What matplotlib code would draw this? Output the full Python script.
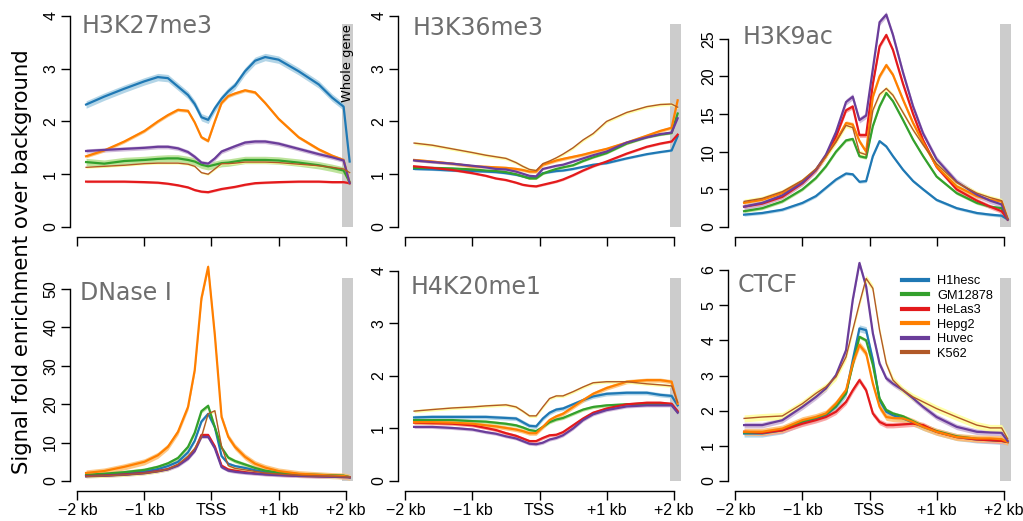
import numpy as np
import matplotlib
matplotlib.use("Agg")
import matplotlib.pyplot as plt

# bin centres in kb around the TSS; last entry is the whole-gene average
pos_kb = [-1.87, -1.6, -1.3, -1.0, -0.8, -0.65, -0.5, -0.35, -0.25, -0.15, -0.05,
          0.05, 0.15, 0.25, 0.35, 0.5, 0.65, 0.8, 1.0, 1.3, 1.6, 1.8, 1.97, 2.06]

cell_lines = ["H1hesc", "GM12878", "HeLas3", "Hepg2", "Huvec", "K562"]
line_colors = ["#1f78b4", "#33a02c", "#e31a1c", "#ff7f00", "#6a3d9a", "#b15928"]
band_colors = ["#a6cee3", "#b2df8a", "#fb9a99", "#fdbf6f", "#cab2d6", "#ffff99"]

marks = ["H3K27me3", "H3K36me3", "H3K9ac", "DNase I", "H4K20me1", "CTCF"]

# fold enrichment, one list per cell line (same order as cell_lines)
h3k27me3 = [
    [2.32, 2.47, 2.62, 2.76, 2.84, 2.82, 2.66, 2.5, 2.33, 2.08, 2.03, 2.25, 2.43, 2.57, 2.68, 2.95, 3.15, 3.22, 3.17, 2.95, 2.7, 2.45, 2.28, 1.24],
    [1.23, 1.2, 1.25, 1.27, 1.29, 1.3, 1.3, 1.27, 1.24, 1.18, 1.15, 1.18, 1.21, 1.22, 1.24, 1.27, 1.27, 1.27, 1.26, 1.22, 1.17, 1.12, 1.07, 0.85],
    [0.86, 0.86, 0.86, 0.85, 0.84, 0.82, 0.79, 0.75, 0.7, 0.67, 0.66, 0.69, 0.72, 0.74, 0.76, 0.8, 0.83, 0.84, 0.85, 0.86, 0.86, 0.85, 0.85, 0.83],
    [1.34, 1.45, 1.62, 1.82, 2.0, 2.12, 2.22, 2.2, 1.98, 1.7, 1.63, 2.0, 2.35, 2.48, 2.53, 2.59, 2.55, 2.35, 2.05, 1.7, 1.47, 1.35, 1.27, 0.83],
    [1.44, 1.46, 1.48, 1.5, 1.52, 1.52, 1.49, 1.42, 1.33, 1.22, 1.2, 1.3, 1.43, 1.48, 1.53, 1.6, 1.62, 1.62, 1.58, 1.48, 1.38, 1.32, 1.26, 0.83],
    [1.13, 1.15, 1.17, 1.2, 1.21, 1.21, 1.21, 1.19, 1.15, 1.03, 1.0, 1.1, 1.2, 1.2, 1.21, 1.23, 1.23, 1.23, 1.22, 1.19, 1.16, 1.13, 1.1, 1.03],
]
h3k36me3 = [
    [1.1, 1.09, 1.07, 1.06, 1.05, 1.04, 1.02, 0.99, 0.96, 0.93, 0.94, 1.02, 1.04, 1.06, 1.07, 1.1, 1.14, 1.18, 1.21, 1.3, 1.38, 1.42, 1.45, 1.72],
    [1.12, 1.12, 1.11, 1.09, 1.07, 1.06, 1.04, 1.0, 0.96, 0.92, 0.92, 1.01, 1.06, 1.1, 1.13, 1.17, 1.25, 1.32, 1.4, 1.58, 1.7, 1.75, 1.78, 2.15],
    [1.15, 1.12, 1.08, 1.02, 0.97, 0.92, 0.89, 0.84, 0.8, 0.78, 0.77, 0.8, 0.83, 0.86, 0.9, 0.98, 1.07, 1.15, 1.24, 1.39, 1.52, 1.58, 1.62, 1.75],
    [1.27, 1.24, 1.2, 1.15, 1.14, 1.13, 1.12, 1.1, 1.08, 1.05, 1.05, 1.18, 1.22, 1.26, 1.29, 1.33, 1.37, 1.42, 1.48, 1.6, 1.73, 1.82, 1.88, 2.4],
    [1.26, 1.23, 1.2, 1.16, 1.13, 1.1, 1.09, 1.05, 1.01, 0.97, 0.96, 1.1, 1.13, 1.16, 1.18, 1.24, 1.3, 1.36, 1.43, 1.6, 1.7, 1.76, 1.79, 2.06],
    [1.59, 1.55, 1.48, 1.41, 1.36, 1.33, 1.3, 1.22, 1.15, 1.09, 1.07, 1.2, 1.25, 1.31, 1.38, 1.5, 1.65, 1.77, 2.0, 2.17, 2.28, 2.32, 2.33, 2.27],
]
h3k9ac = [
    [1.64, 1.86, 2.3, 3.2, 4.1, 5.2, 6.3, 7.1, 7.0, 6.0, 6.1, 9.4, 11.4, 10.7, 9.4, 7.6, 6.1, 5.0, 3.6, 2.5, 1.86, 1.64, 1.5, 1.0],
    [2.1, 2.5, 3.4, 5.0, 6.5, 8.05, 10.0, 11.5, 11.7, 9.4, 9.2, 13.4, 16.0, 17.8, 16.7, 14.2, 11.6, 9.4, 6.7, 4.5, 3.2, 2.7, 2.5, 1.0],
    [2.7, 3.1, 4.0, 5.8, 7.5, 9.4, 12.0, 15.5, 16.0, 12.2, 12.2, 19.0, 24.0, 25.5, 23.5, 19.0, 15.0, 11.5, 8.0, 5.0, 3.5, 2.7, 2.1, 1.0],
    [3.2, 3.6, 4.5, 6.1, 7.6, 9.4, 11.4, 13.8, 13.6, 11.4, 10.0, 17.3, 20.0, 21.5, 20.2, 16.9, 13.8, 11.2, 8.05, 5.4, 4.1, 3.6, 3.4, 1.1],
    [2.7, 3.2, 4.2, 5.9, 7.6, 9.6, 12.6, 16.6, 17.3, 14.2, 14.8, 21.0, 27.2, 28.2, 25.5, 20.5, 16.0, 12.4, 9.0, 6.0, 4.3, 3.5, 3.0, 1.0],
    [3.4, 3.8, 4.7, 6.2, 7.7, 9.4, 11.3, 13.5, 13.2, 9.9, 9.6, 15.5, 17.6, 18.4, 17.5, 15.2, 12.9, 10.9, 8.4, 5.9, 4.5, 3.9, 3.5, 1.1],
]
dnase = [
    [1.4, 1.6, 2.0, 2.5, 3.1, 3.9, 5.0, 7.5, 10.5, 15.5, 17.5, 14.0, 6.5, 4.5, 3.9, 3.4, 2.8, 2.3, 1.9, 1.6, 1.4, 1.35, 1.3, 1.0],
    [1.6, 1.9, 2.3, 2.9, 3.7, 4.6, 6.0, 8.9, 12.6, 18.2, 19.6, 14.0, 8.7, 6.1, 5.2, 4.3, 3.4, 2.7, 2.2, 1.8, 1.6, 1.5, 1.4, 1.0],
    [1.3, 1.4, 1.7, 2.1, 2.6, 3.1, 4.2, 6.0, 8.0, 12.0, 12.0, 9.0, 4.0, 3.0, 2.7, 2.3, 2.0, 1.8, 1.6, 1.3, 1.2, 1.1, 1.0, 1.0],
    [2.1, 2.6, 3.7, 5.0, 6.7, 8.9, 12.8, 19.3, 28.9, 47.6, 55.8, 38.0, 16.7, 11.5, 8.9, 6.3, 4.5, 3.5, 2.6, 1.9, 1.6, 1.4, 1.3, 1.0],
    [1.2, 1.35, 1.6, 2.0, 2.5, 3.0, 4.0, 5.8, 7.8, 11.5, 11.5, 8.5, 3.6, 2.7, 2.4, 2.1, 1.9, 1.7, 1.5, 1.3, 1.15, 1.1, 1.0, 0.9],
    [1.2, 1.35, 1.6, 2.0, 2.5, 3.1, 4.3, 6.5, 8.5, 11.5, 17.5, 18.3, 9.0, 4.0, 3.3, 2.9, 2.5, 2.1, 1.8, 1.5, 1.3, 1.2, 1.1, 1.0],
]
h4k20me1 = [
    [1.21, 1.22, 1.22, 1.22, 1.22, 1.21, 1.2, 1.19, 1.12, 1.05, 1.04, 1.19, 1.3, 1.36, 1.38, 1.46, 1.54, 1.61, 1.66, 1.68, 1.68, 1.64, 1.62, 1.44],
    [1.16, 1.16, 1.16, 1.14, 1.13, 1.11, 1.09, 1.06, 1.02, 0.97, 0.95, 1.03, 1.12, 1.17, 1.2, 1.28, 1.36, 1.41, 1.44, 1.46, 1.47, 1.47, 1.46, 1.31],
    [1.11, 1.1, 1.09, 1.06, 1.01, 0.97, 0.91, 0.86, 0.81, 0.76, 0.76, 0.82, 0.87, 0.88, 0.93, 1.06, 1.19, 1.3, 1.38, 1.46, 1.49, 1.49, 1.47, 1.33],
    [1.12, 1.12, 1.11, 1.09, 1.06, 1.04, 1.01, 0.98, 0.95, 0.91, 0.91, 1.03, 1.16, 1.23, 1.28, 1.41, 1.54, 1.66, 1.77, 1.89, 1.92, 1.92, 1.89, 1.47],
    [1.03, 1.03, 1.01, 0.98, 0.93, 0.9, 0.85, 0.81, 0.76, 0.71, 0.7, 0.73, 0.79, 0.82, 0.87, 1.0, 1.16, 1.27, 1.35, 1.42, 1.44, 1.44, 1.44, 1.3],
    [1.33, 1.36, 1.39, 1.41, 1.43, 1.44, 1.45, 1.41, 1.33, 1.24, 1.24, 1.41, 1.57, 1.62, 1.62, 1.7, 1.79, 1.87, 1.89, 1.89, 1.85, 1.83, 1.81, 1.5],
]
ctcf = [
    [1.35, 1.35, 1.44, 1.68, 1.78, 1.87, 2.11, 2.49, 3.44, 4.34, 4.29, 3.44, 2.3, 1.97, 1.87, 1.78, 1.66, 1.54, 1.4, 1.25, 1.18, 1.16, 1.14, 1.11],
    [1.38, 1.38, 1.46, 1.7, 1.8, 1.9, 2.13, 2.5, 3.3, 4.1, 4.0, 3.3, 2.35, 2.02, 1.92, 1.84, 1.7, 1.56, 1.42, 1.27, 1.2, 1.17, 1.15, 1.11],
    [1.4, 1.37, 1.44, 1.63, 1.73, 1.82, 1.97, 2.25, 2.58, 2.87, 2.58, 1.92, 1.68, 1.59, 1.59, 1.61, 1.63, 1.59, 1.4, 1.25, 1.18, 1.16, 1.14, 1.11],
    [1.4, 1.4, 1.49, 1.73, 1.82, 1.92, 2.2, 2.58, 3.34, 3.87, 3.63, 2.77, 2.11, 1.82, 1.79, 1.78, 1.68, 1.54, 1.4, 1.25, 1.21, 1.21, 1.19, 1.11],
    [1.59, 1.59, 1.73, 2.11, 2.39, 2.63, 3.01, 3.72, 5.15, 6.2, 5.53, 4.2, 3.34, 2.92, 2.77, 2.58, 2.35, 2.11, 1.82, 1.54, 1.4, 1.38, 1.37, 1.14],
    [1.78, 1.82, 1.85, 2.2, 2.49, 2.68, 2.96, 3.53, 4.29, 5.05, 5.76, 5.48, 4.29, 3.34, 2.87, 2.58, 2.39, 2.25, 2.06, 1.82, 1.59, 1.51, 1.51, 1.2],
]
profiles = [h3k27me3, h3k36me3, h3k9ac, dnase, h4k20me1, ctcf]

# half-width of the shaded error band, per panel and cell line
band_width = [
    [0.07, 0.07, 0.02, 0.03, 0.04, 0.02],
    [0.02, 0.02, 0.02, 0.03, 0.02, 0.03],
    [0.2, 0.2, 0.3, 0.3, 0.4, 0.3],
    [0.4, 0.5, 0.4, 0.8, 0.4, 0.4],
    [0.04, 0.03, 0.03, 0.04, 0.03, 0.03],
    [0.1, 0.05, 0.08, 0.1, 0.08, 0.1],
]

y_top_tick = [4, 4, 25, 50, 4, 6]
y_step = [1, 1, 5, 10, 1, 1]
y_lim = [4.13, 4.13, 28.95, 56.8, 4.15, 6.2]

xtick_pos = [-2, -1, 0, 1, 2]
xtick_lab = ["\u22122 kb", "\u22121 kb", "TSS", "+1 kb", "+2 kb"]

W, H = 1023, 521
fig = plt.figure(figsize=(W / 100, H / 100), dpi=100)

col_left = [70, 398, 728]
row_base = [227, 481]
ax_w, ax_h = 283, 218
title_xy = [(82, 33), (413, 35), (743, 44), (80, 300), (411, 294), (738, 292)]

x = np.array(pos_kb)
for i, name in enumerate(marks):
    r, c = divmod(i, 3)
    ax = fig.add_axes([col_left[c] / W, (H - row_base[r]) / H, ax_w / W, ax_h / H])
    ax.set_xlim(-2.11, 2.11)
    ax.set_ylim(0, y_lim[i])

    ax.axvspan(1.95, 2.11, ymin=0, ymax=0.93, color="#cccccc", lw=0, zorder=0)

    for k in range(6):
        y = np.array(profiles[i][k])
        b = band_width[i][k]
        ax.fill_between(x, y - b, y + b, color=band_colors[k], alpha=0.85, lw=0,
                        zorder=1, clip_on=False)
    for k in range(6):
        y = np.array(profiles[i][k])
        ax.plot(x, y, color=line_colors[k], lw=1.0 if k == 5 else 1.6,
                zorder=2, clip_on=False, label=cell_lines[k])

    for s in ["top", "right"]:
        ax.spines[s].set_visible(False)
    ax.spines["left"].set_bounds(0, y_top_tick[i])
    ax.spines["bottom"].set_bounds(-2, 2)
    ax.spines["bottom"].set_position(("outward", 7))
    for s in ["left", "bottom"]:
        ax.spines[s].set_linewidth(1.0)

    ax.set_yticks(np.arange(0, y_top_tick[i] + 1e-9, y_step[i]))
    ax.set_yticklabels([str(int(v)) for v in ax.get_yticks()], rotation=90,
                       va="center", family="Liberation Sans", fontsize=11.5)
    ax.set_xticks(xtick_pos)
    if r == 1:
        ax.set_xticklabels(xtick_lab, family="Liberation Sans", fontsize=11.5)
    else:
        ax.set_xticklabels([])
    ax.tick_params(length=6.5, width=1.0, pad=2)
    ax.patch.set_visible(False)

    tx, ty = title_xy[i]
    fig.text(tx / W, 1 - ty / H, name, color="#6e6e6e", fontsize=17,
             family="DejaVu Sans", ha="left", va="baseline")

    if i == 0:
        ax.text(2.03, 0.93, "Whole gene", rotation=90, ha="center", va="top",
                fontsize=9.4, transform=ax.get_xaxis_transform())
    if i == 5:
        ax.legend(loc="upper left", bbox_to_anchor=(902 / W, 1 - 275 / H),
                  bbox_transform=fig.transFigure, frameon=False,
                  prop={"family": "Liberation Sans", "size": 9.2},
                  handlelength=2.0, handletextpad=0.75, labelspacing=0.2,
                  borderaxespad=0, borderpad=0)
        for ln in ax.get_legend().get_lines():
            ln.set_linewidth(3)

fig.text(22 / W, 1 - 262 / H, "Signal fold enrichment over background",
         rotation=90, ha="center", va="center", fontsize=15.3, family="DejaVu Sans")

fig.savefig("out.png", dpi=100)
